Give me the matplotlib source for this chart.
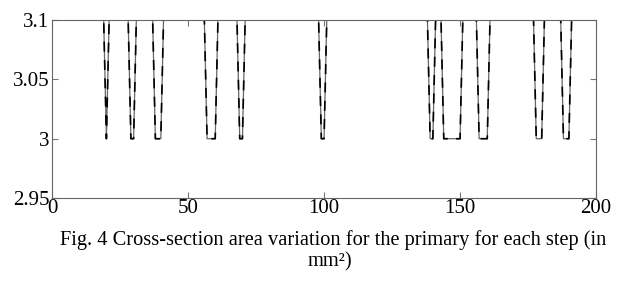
import matplotlib
matplotlib.use("Agg")
import matplotlib.pyplot as plt

# breakpoints of the step series (step, area in mm^2)
steps = [0, 19, 20, 21, 28, 29, 30, 31, 37, 38, 40, 41, 56, 57, 60, 61,
         68, 69, 70, 71, 98, 99, 100, 101, 138, 139, 140, 141, 143, 144,
         150, 151, 156, 157, 160, 161, 177, 178, 180, 181, 187, 188, 190,
         191, 200]
area = [3.1, 3.1, 3.0, 3.1, 3.1, 3.0, 3.0, 3.1, 3.1, 3.0, 3.0, 3.1, 3.1,
        3.0, 3.0, 3.1, 3.1, 3.0, 3.0, 3.1, 3.1, 3.0, 3.0, 3.1, 3.1, 3.0,
        3.0, 3.1, 3.1, 3.0, 3.0, 3.1, 3.1, 3.0, 3.0, 3.1, 3.1, 3.0, 3.0,
        3.1, 3.1, 3.0, 3.0, 3.1, 3.1]

xticks = [0, 50, 100, 150, 200]
yticks = [2.95, 3.0, 3.05, 3.1]
yticklabels = ['2.95', '3', '3.05', '3.1']

caption1 = 'Fig. 4 Cross-section area variation for the primary for each step (in'
caption2 = 'mm\u00b2)'

plt.rcParams['font.family'] = ['Liberation Serif', 'DejaVu Serif']

fig = plt.figure(figsize=(6.19, 2.85), dpi=100)
ax = fig.add_axes([0.084, 0.305, 0.879, 0.625])

ax.plot(steps, area, '-', color='#666666', lw=0.9)
ax.plot(steps, area, '--', color='black', lw=1.2, dashes=(6, 5))

ax.set_xlim(0, 200)
ax.set_ylim(2.95, 3.1)
ax.set_xticks(xticks)
ax.set_xticklabels([str(v) for v in xticks])
ax.set_yticks(yticks)
ax.set_yticklabels(yticklabels)
ax.tick_params(direction='in', length=4, width=0.8, color='#777777',
               top=True, right=True, labelsize=15, pad=2)
ax.tick_params(axis='x', pad=0.5)
for s in ax.spines.values():
    s.set_color('#666666')
    s.set_linewidth(0.8)

fig.text(0.538, 0.158, caption1, ha='center', va='center', fontsize=14.7)
fig.text(0.533, 0.082, caption2, ha='center', va='center', fontsize=14.7)

fig.savefig('out.png', dpi=100)
